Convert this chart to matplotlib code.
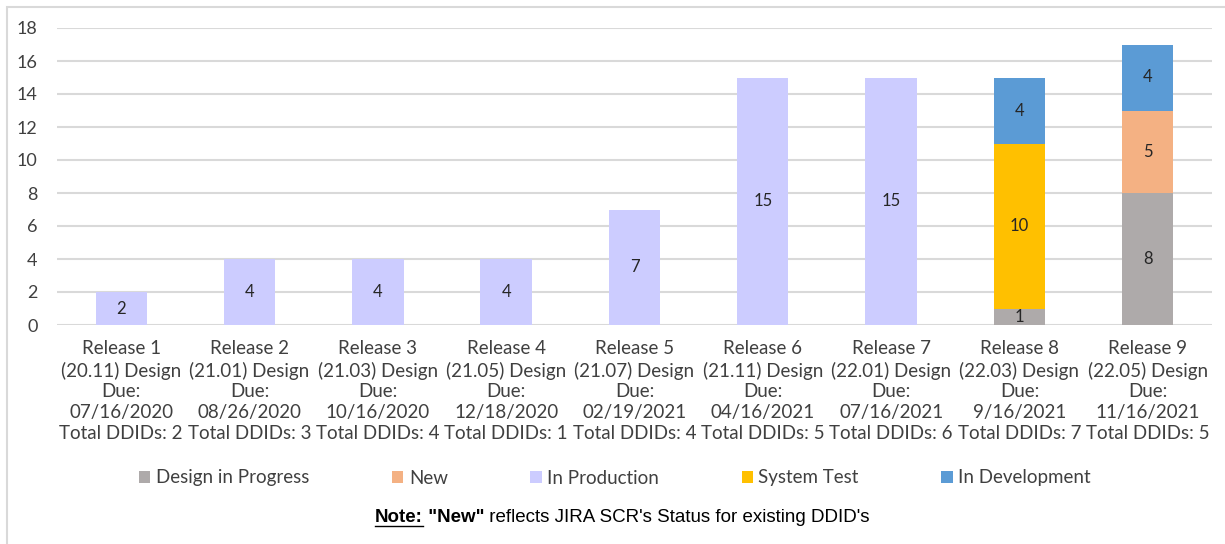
import numpy as np
import matplotlib
matplotlib.use("Agg")
import matplotlib.pyplot as plt
from matplotlib.patches import Rectangle
from matplotlib.lines import Line2D

releases = ["Release 1", "Release 2", "Release 3", "Release 4", "Release 5",
            "Release 6", "Release 7", "Release 8", "Release 9"]
codes = ["20.11", "21.01", "21.03", "21.05", "21.07", "21.11", "22.01", "22.03", "22.05"]
due = ["07/16/2020", "08/26/2020", "10/16/2020", "12/18/2020", "02/19/2021",
       "04/16/2021", "07/16/2021", "9/16/2021", "11/16/2021"]
total_ddids = [2, 3, 4, 1, 4, 5, 6, 7, 5]

series = ["Design in Progress", "New", "In Production", "System Test", "In Development"]
design_in_progress = [0, 0, 0, 0, 0, 0, 0, 1, 8]
new = [0, 0, 0, 0, 0, 0, 0, 0, 5]
in_production = [2, 4, 4, 4, 7, 15, 15, 0, 0]
system_test = [0, 0, 0, 0, 0, 0, 0, 10, 0]
in_development = [0, 0, 0, 0, 0, 0, 0, 4, 4]
colors = ["#AEAAAA", "#F4B183", "#CCCCFF", "#FFC000", "#5B9BD5"]

plt.rcParams['font.family'] = ['Lato', 'DejaVu Sans']

fig = plt.figure(figsize=(12.25, 5.44), dpi=100)
fig.patches.append(Rectangle((7/1225, -0.1), 1.1, 1.1 - 7/544, transform=fig.transFigure,
                             fill=False, edgecolor="#D9D9D9", linewidth=1.5))
ax = fig.add_axes([57/1225, 1 - 325/544, (1212 - 57)/1225, 297/544])

labels = [f"{r}\n({c}) Design\nDue:\n{d}\nTotal DDIDs: {t}"
          for r, c, d, t in zip(releases, codes, due, total_ddids)]
x = np.arange(len(releases))
bottom = np.zeros(len(releases))
data = [design_in_progress, new, in_production, system_test, in_development]
for name, vals, col in zip(series, data, colors):
    vals = np.array(vals, dtype=float)
    ax.bar(x, vals, 0.4, bottom=bottom, color=col, label=name, zorder=2)
    for xi, v, b in zip(x, vals, bottom):
        if v > 0:
            ax.text(xi, b + v / 2, f"{int(v)}", ha="center", va="center",
                    fontsize=12, color="#262626", zorder=3)
    bottom += vals

ax.set_xlim(-0.5, len(releases) - 0.5)
ax.set_ylim(0, 18)
ax.set_yticks(range(0, 19, 2))
ax.set_xticks(x)
ax.set_xticklabels(labels, fontsize=13.5, color="#404040", linespacing=1.28)
ax.tick_params(axis="both", length=0, labelcolor="#404040")
ax.tick_params(axis="y", labelsize=13, pad=14)
ax.tick_params(axis="x", pad=11)
ax.grid(axis="y", color="#D9D9D9", linewidth=1.5, zorder=0)
for s in ax.spines.values():
    s.set_visible(False)

fig.legend(loc="center", bbox_to_anchor=(0.502, 1 - 478/544), ncol=5, frameon=False,
           fontsize=13.5, handlelength=0.6, handleheight=0.6, handletextpad=0.3,
           columnspacing=4.4, labelcolor="#404040")

# note line
ny = 1 - 518/544
fs = 13.5
t1 = fig.text(375/1225, ny, "Note:", fontsize=fs, fontweight="bold",
              family="Liberation Sans", va="center", ha="left")
t2 = fig.text(0, ny, ' "New"', fontsize=fs, fontweight="bold",
              family="Liberation Sans", va="center", ha="left")
t3 = fig.text(0, ny, " reflects JIRA SCR's Status for existing DDID's", fontsize=fs,
              family="Liberation Sans", va="center", ha="left")
fig.canvas.draw()
r = fig.canvas.get_renderer()
b1 = t1.get_window_extent(r)
t2.set_x(b1.x1 / fig.bbox.width)
b2 = t2.get_window_extent(r)
t3.set_x(b2.x1 / fig.bbox.width)
fig.lines.append(Line2D([b1.x0 / fig.bbox.width, b1.x1 / fig.bbox.width],
                        [(b1.y0 + 1) / fig.bbox.height] * 2, transform=fig.transFigure,
                        color="black", linewidth=1))

fig.savefig("out.png", dpi=100)
